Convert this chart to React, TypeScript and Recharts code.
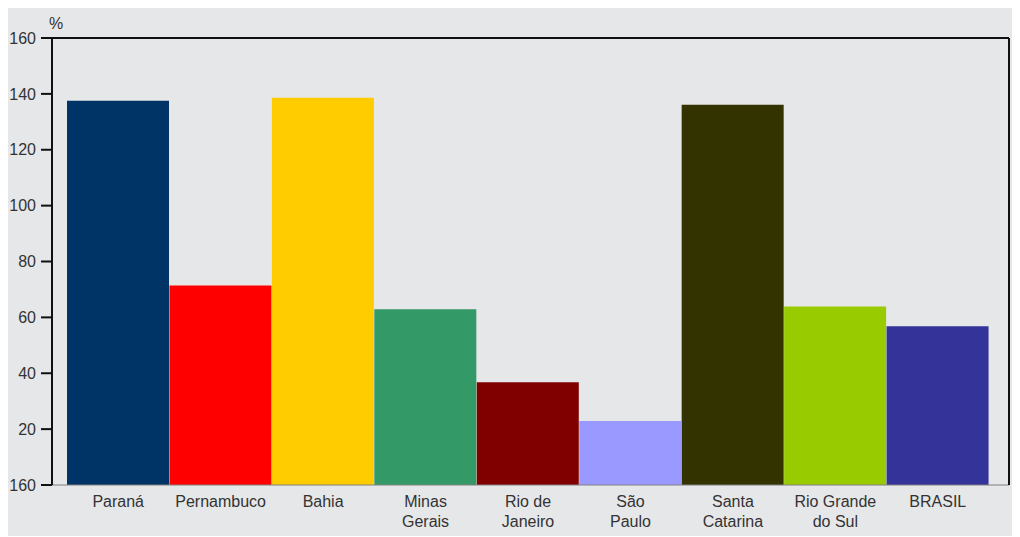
import { BarChart, Bar, XAxis, YAxis, Cell } from "recharts";

// states + Brasil, share in %
const states = [
  "Paraná",
  "Pernambuco",
  "Bahia",
  "Minas\nGerais",
  "Rio de\nJaneiro",
  "São\nPaulo",
  "Santa\nCatarina",
  "Rio Grande\ndo Sul",
  "BRASIL",
];
const values = [137.5, 71.4, 138.6, 62.9, 36.8, 22.9, 136.1, 63.9, 56.8];
const barColors = [
  "#003366",
  "#ff0000",
  "#ffcc00",
  "#339966",
  "#800000",
  "#9999ff",
  "#333300",
  "#99cc00",
  "#333399",
];
const yTicks = [0, 20, 40, 60, 80, 100, 120, 140, 160];
// the source prints 160 at the bottom too
const yTickLabels = ["160", "20", "40", "60", "80", "100", "120", "140", "160"];

const data = states.map((name, i) => ({ name, value: values[i] }));

const FONT = '"Liberation Sans", Arial, sans-serif';
const TEXT = "#333333";

const StateTick = (props: any) => {
  const { x, y, payload } = props;
  const lines = String(payload.value).split("\n");
  return (
    <text x={x} y={y + 14} textAnchor="middle" fill={TEXT} fontSize={16} fontFamily={FONT}>
      {lines.map((l, i) => (
        <tspan key={i} x={x} dy={i === 0 ? 0 : 20}>
          {l}
        </tspan>
      ))}
    </text>
  );
};

export default function App() {
  return (
    <div style={{ width: 1012, height: 528, background: "#e6e7e9", position: "relative" }}>
      <span
        style={{
          position: "absolute",
          left: 41,
          top: 7,
          fontFamily: FONT,
          fontSize: 16,
          color: TEXT,
        }}
      >
        %
      </span>
      <BarChart
        width={1012}
        height={528}
        data={data}
        margin={{ top: 29, right: 10, left: 0, bottom: 0 }}
        barCategoryGap={0}
      >
        <XAxis
          dataKey="name"
          interval={0}
          tick={<StateTick />}
          tickLine={false}
          axisLine={{ stroke: "#808080", strokeWidth: 1 }}
          padding={{ left: 15, right: 20 }}
          height={51}
        />
        <XAxis
          xAxisId="top"
          orientation="top"
          dataKey="name"
          height={1}
          tick={false}
          tickLine={false}
          axisLine={{ stroke: "#111111", strokeWidth: 2 }}
        />
        <YAxis
          domain={[0, 160]}
          ticks={yTicks}
          interval={0}
          width={44}
          tickSize={11}
          tickMargin={5}
          tickFormatter={(_v: number, i: number) => yTickLabels[i]}
          tick={{ fontSize: 16, fill: TEXT, fontFamily: FONT }}
          tickLine={{ stroke: "#111111", strokeWidth: 2 }}
          axisLine={{ stroke: "#111111", strokeWidth: 2 }}
        />
        <YAxis
          yAxisId="right"
          orientation="right"
          domain={[0, 160]}
          width={1}
          tick={false}
          tickLine={false}
          axisLine={{ stroke: "#111111", strokeWidth: 2 }}
        />
        <Bar dataKey="value" isAnimationActive={false}>
          {data.map((_d, i) => (
            <Cell key={`c-${i}`} fill={barColors[i]} />
          ))}
        </Bar>
      </BarChart>
    </div>
  );
}
